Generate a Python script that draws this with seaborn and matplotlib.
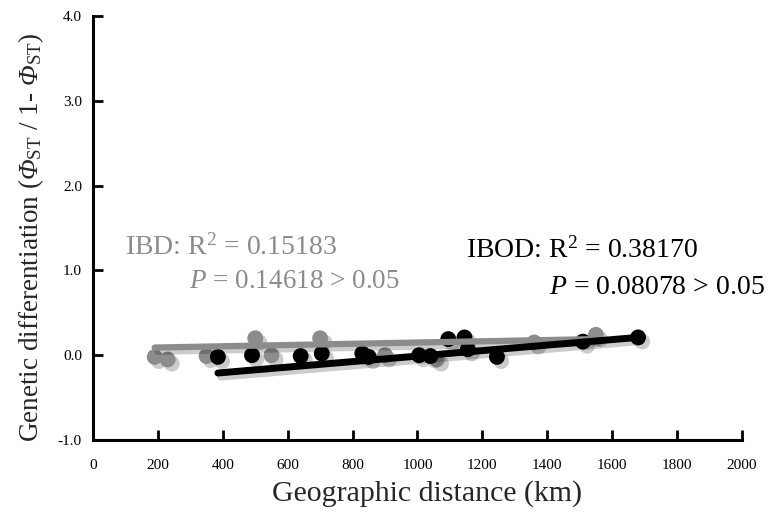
import numpy as np
import pandas as pd
import matplotlib
matplotlib.use("Agg")
import matplotlib.pyplot as plt
import matplotlib.patheffects as pe
import seaborn as sns

# IBD (gray) and IBOD (black) pairwise values
ibd_dist = [190, 230, 350, 500, 550, 700, 900, 1060, 1360, 1550]
ibd_diff = [-0.02, -0.05, -0.01, 0.20, 0.00, 0.20, 0.00, -0.05, 0.15, 0.24]
ibod_dist = [385, 490, 640, 705, 830, 850, 1005, 1040, 1095, 1145, 1155, 1245, 1510, 1680]
ibod_diff = [-0.02, 0.00, -0.01, 0.02, 0.02, -0.02, 0.00, -0.01, 0.19, 0.21, 0.07, -0.02, 0.16, 0.21]

# regression lines as drawn in the figure
ibd_line_x = [190, 1550]
ibd_line_y = [0.09, 0.19]
ibod_line_x = [385, 1680]
ibod_line_y = [-0.21, 0.21]

x_ticks = list(range(0, 2001, 200))
y_ticks = [-1.0, 0.0, 1.0, 2.0, 3.0, 4.0]

gray = '#8c8c8c'

sns.set_style('ticks')
plt.rcParams['font.family'] = ['Liberation Serif', 'DejaVu Serif']
plt.rcParams['mathtext.fontset'] = 'custom'
plt.rcParams['mathtext.rm'] = 'Liberation Serif'
plt.rcParams['mathtext.it'] = 'Liberation Serif:italic'
# italic slot for the Greek capital (mathtext forces \mathit Greek capitals upright)
plt.rcParams['mathtext.sf'] = 'Liberation Serif:italic'

fig = plt.figure(figsize=(7.72, 5.15), dpi=100)
ax = fig.add_axes([0.1205, 0.1456, 0.8405, 0.8234])

line_shadow = [pe.SimpleLineShadow(offset=(2, -3), alpha=0.2), pe.Normal()]
dot_shadow = [pe.SimplePatchShadow(offset=(3, -3), shadow_rgbFace='#555555', alpha=0.3),
              pe.Normal()]

sns.lineplot(x=ibd_line_x, y=ibd_line_y, color=gray, linewidth=4.5, ax=ax,
             path_effects=line_shadow)
sns.scatterplot(x=ibd_dist, y=ibd_diff, color=gray, s=130, edgecolor='none', ax=ax,
                path_effects=dot_shadow)
sns.lineplot(x=ibod_line_x, y=ibod_line_y, color='black', linewidth=5, ax=ax,
             path_effects=line_shadow)
sns.scatterplot(x=ibod_dist, y=ibod_diff, color='black', s=130, edgecolor='none', ax=ax,
                path_effects=dot_shadow)

ax.set_xlim(0, 2000)
ax.set_ylim(-1.0, 4.0)
ax.set_xticks(x_ticks)
ax.set_yticks(y_ticks)
ax.set_yticklabels([f'{v:.1f}' for v in y_ticks])
sns.despine(ax=ax)
for s in ['left', 'bottom']:
    ax.spines[s].set_linewidth(2.2)
    ax.spines[s].set_color('black')
ax.tick_params(axis='both', direction='in', length=7, width=2, labelsize=11,
               colors='black')
ax.tick_params(axis='x', pad=14)
ax.tick_params(axis='y', pad=8)

ax.set_xlabel('Geographic distance (km)', fontsize=21.5)
ax.set_ylabel(r'Genetic differentiation ($\mathsf{\Phi}_{\rm ST}$ / 1- $\mathsf{\Phi}_{\rm ST}$)',
              fontsize=19.5)
ax.xaxis.set_label_coords(0.515, -0.095)
ax.yaxis.set_label_coords(-0.072, 0.479)

ax.text(100, 1.27, r'IBD: R$^2$ = 0.15183', color=gray, fontsize=20, va='center')
ax.text(295, 0.87, r'$\it{P}$ = 0.14618 > 0.05', color=gray, fontsize=19.5, va='center')
ax.text(1150, 1.235, r'IBOD: R$^2$ = 0.38170', color='black', fontsize=20, va='center')
ax.text(1405, 0.80, r'$\it{P}$ = 0.08078 > 0.05', color='black', fontsize=20, va='center')

fig.savefig('out.png', dpi=100)
